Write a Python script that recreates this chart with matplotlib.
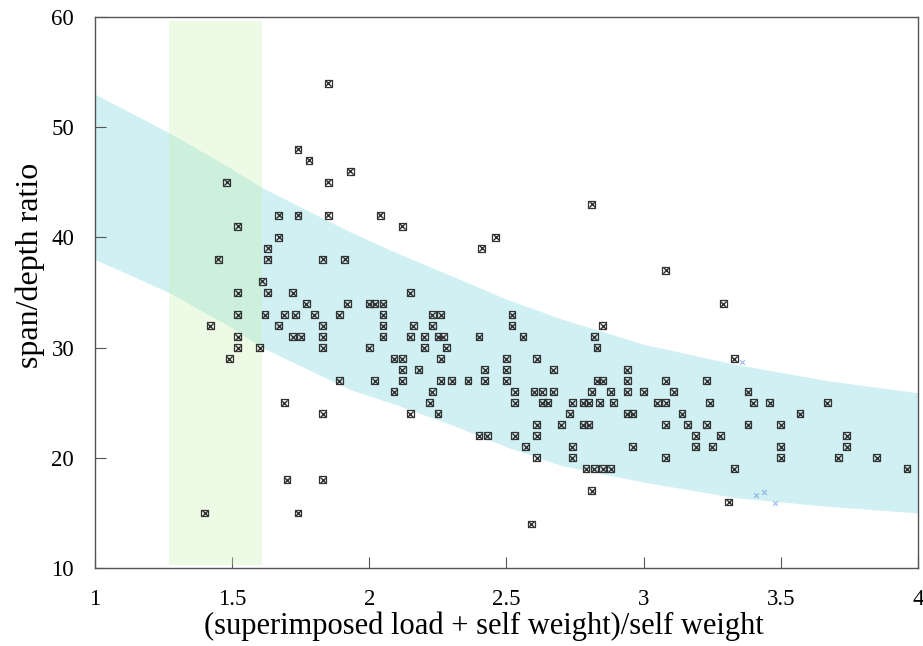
import numpy as np
import matplotlib
matplotlib.use("Agg")
import matplotlib.pyplot as plt

# ---------------------------------------------------------------------------
# data
# ---------------------------------------------------------------------------

# load ratio (x) and span/depth ratio (y) of the surveyed slabs
load_ratio = [
    1.85, 1.74, 1.78, 1.93, 1.48, 1.85, 1.67, 1.74, 1.85, 2.04,
    1.52, 1.67, 1.63, 1.45, 1.63, 1.83, 1.91, 1.61, 1.52, 1.63, 1.72,
    2.12, 2.46, 2.41, 2.81, 3.08,
    2.15,
    1.77, 1.92, 2.00, 2.02, 2.05,
    1.62, 1.69, 1.73, 1.80, 1.89, 2.05, 2.23, 2.26, 2.52,
    1.67, 1.83, 2.05, 2.16, 2.23, 2.52,
    1.72, 1.75, 1.83, 2.05, 2.15, 2.20, 2.25, 2.27, 2.40, 2.56,
    1.60, 1.83, 2.00, 2.20, 2.28,
    2.09, 2.12, 2.26, 2.50, 2.61,
    2.12, 2.18, 2.42, 2.50,
    1.89, 2.02, 2.12, 2.26, 2.30, 2.36, 2.42, 2.50,
    2.09, 2.23, 2.53, 2.60, 2.63,
    1.69, 2.22, 2.53, 2.63,
    1.83, 2.15, 2.25,
    2.61,
    2.40, 2.43, 2.53, 2.61,
    2.57,
    2.61,
    1.70, 1.83,
    3.29,
    2.85,
    2.82,
    2.83,
    3.33,
    2.67, 2.94,
    2.83, 2.85, 2.94, 3.08, 3.23,
    2.67, 2.81, 2.88, 2.94, 3.00, 3.11, 3.38,
    2.65, 2.74, 2.78, 2.80, 2.84, 2.89, 3.05, 3.08, 3.24, 3.40, 3.46, 3.67,
    2.73, 2.94, 2.96, 3.14, 3.57,
    2.70, 2.78, 2.80, 3.08, 3.16, 3.23, 3.38, 3.50,
    3.19, 3.28, 3.74,
    2.74, 2.96, 3.19, 3.25, 3.50, 3.74,
    2.74, 3.08, 3.50, 3.71, 3.85,
    2.79, 2.82, 2.85, 2.88, 3.33, 3.96,
    2.81, 3.31, 2.59,
    1.42, 1.52, 1.52, 1.52, 1.49, 1.40, 1.74,
]
span_depth = [
    54, 48, 47, 46, 45, 45, 42, 42, 42, 42,
    41, 40, 39, 38, 38, 38, 38, 36, 35, 35, 35,
    41, 40, 39, 43, 37,
    35,
    34, 34, 34, 34, 34,
    33, 33, 33, 33, 33, 33, 33, 33, 33,
    32, 32, 32, 32, 32, 32,
    31, 31, 31, 31, 31, 31, 31, 31, 31, 31,
    30, 30, 30, 30, 30,
    29, 29, 29, 29, 29,
    28, 28, 28, 28,
    27, 27, 27, 27, 27, 27, 27, 27,
    26, 26, 26, 26, 26,
    25, 25, 25, 25,
    24, 24, 24,
    23,
    22, 22, 22, 22,
    21,
    20,
    18, 18,
    34,
    32,
    31,
    30,
    29,
    28, 28,
    27, 27, 27, 27, 27,
    26, 26, 26, 26, 26, 26, 26,
    25, 25, 25, 25, 25, 25, 25, 25, 25, 25, 25, 25,
    24, 24, 24, 24, 24,
    23, 23, 23, 23, 23, 23, 23, 23,
    22, 22, 22,
    21, 21, 21, 21, 21, 21,
    20, 20, 20, 20, 20,
    19, 19, 19, 19, 19, 19,
    17, 16, 14,
    32, 33, 31, 30, 29, 15, 15,
]

# faint blue marks on the original scan
blue_x = [3.36, 3.41, 3.44, 3.48]
blue_y = [28.7, 16.6, 16.9, 15.9]

# recommended band (upper / lower edge)
band_x = [1.0, 1.27, 1.5, 1.61, 1.93, 2.1, 2.3, 2.5, 2.7, 3.0, 3.33, 3.67, 4.0]
band_hi = [53.0, 49.5, 46.2, 44.5, 40.5, 38.6, 36.5, 34.4, 32.6, 30.3, 28.5, 27.0, 25.9]
band_lo = [38.0, 35.0, 31.8, 30.0, 26.2, 24.8, 23.0, 21.0, 19.3, 17.8, 16.4, 15.6, 15.0]

# highlighted load ratio range
zone_x = [1.27, 1.61]

xticks = [1, 1.5, 2, 2.5, 3, 3.5, 4]
xtick_labels = ["1", "1.5", "2", "2.5", "3", "3.5", "4"]
yticks = [10, 20, 30, 40, 50, 60]

# ---------------------------------------------------------------------------
# plot
# ---------------------------------------------------------------------------

plt.rcParams["font.family"] = ["Liberation Serif", "DejaVu Serif"]

fig = plt.figure(figsize=(9.23, 6.46), dpi=100)
ax = fig.add_axes([0.1029, 0.1207, 0.8917, 0.8530])

ax.fill_between(band_x, band_lo, band_hi, color="#d0f0f3", lw=0, zorder=1)
ax.axvspan(zone_x[0], zone_x[1], ymin=0.006, ymax=0.993,
           color="#c8f0b0", alpha=0.32, lw=0, zorder=2)

ax.scatter(load_ratio, span_depth, marker="s", s=24, facecolors="none",
           edgecolors="#333333", linewidths=0.9, zorder=3)
ax.scatter(load_ratio, span_depth, marker="x", s=20, c="#333333",
           linewidths=1.0, zorder=3)
ax.scatter(blue_x, blue_y, marker="x", s=12, c="#5a8ee0", alpha=0.6,
           linewidths=0.8, zorder=3)

ax.set_xlim(1, 4)
ax.set_ylim(10, 60)
ax.set_xticks(xticks)
ax.set_xticklabels(xtick_labels)
ax.set_yticks(yticks)

for s in ax.spines.values():
    s.set_color("#555555")
    s.set_linewidth(1.0)

ax.tick_params(direction="in", length=8, width=0.8, color="#555555",
               labelsize=16.5, pad=15)
ax.tick_params(axis="y", pad=15)

ax.set_xlabel("(superimposed load + self weight)/self weight", fontsize=22)
ax.set_ylabel("span/depth ratio", fontsize=23)
ax.xaxis.set_label_coords(0.473, -0.079)
ax.yaxis.set_label_coords(-0.061, 0.55)

fig.savefig("out.png", dpi=100)
